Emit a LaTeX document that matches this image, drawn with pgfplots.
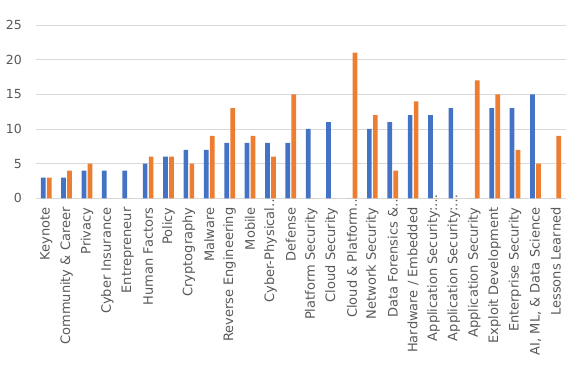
\documentclass[border=0pt]{standalone}
\usepackage{pgfplots}
\pgfplotsset{compat=1.18}
\usepackage{fontspec}
\setmainfont{DejaVu Sans}
\definecolor{xlblue}{HTML}{4472C4}
\definecolor{xlorange}{HTML}{ED7D31}
\definecolor{gridc}{HTML}{D9D9D9}
\definecolor{txt}{HTML}{595959}
\begin{document}
\begin{tikzpicture}
\useasboundingbox (-36pt,-174.7pt) rectangle (552pt,198.3pt);
\begin{axis}[
  scale only axis, width=530pt, height=173.3pt,
  xmin=-0.5, xmax=25.5, ymin=0, ymax=25,
  ytick={0,5,10,15,20,25}, xtick={0,...,25},
  xticklabels={Keynote,Community \& Career,Privacy,Cyber Insurance,Entrepreneur,Human Factors,Policy,Cryptography,Malware,Reverse Engineering,Mobile,Cyber-Physical\rlap{…},Defense,Platform Security,Cloud Security,Cloud \& Platform\rlap{…},Network Security,Data Forensics \&\rlap{…},Hardware / Embedded,Application Security:\rlap{…},Application Security:\rlap{…},Application Security,Exploit Development,Enterprise Security,{AI, ML, \& Data Science},Lessons Learned},
  axis line style={draw=none},
  major tick length=0pt,
  ymajorgrids, grid style={gridc, line width=0.9pt},
  ybar, bar width=4.7pt,
  ticklabel style={text=txt},
  xticklabel style={rotate=90, anchor=east, inner sep=0pt, font=\fontsize{13}{13}\selectfont},
  yticklabel style={anchor=east, inner sep=0pt, font=\fontsize{12.5}{12.5}\selectfont},
  xticklabel shift=9pt, yticklabel shift=14pt,
  /pgf/number format/assume math mode=true,
]
\addplot[fill=xlblue, draw=none, bar shift=-3pt] coordinates {
(0,3) (1,3) (2,4) (3,4) (4,4) (5,5) (6,6) (7,7) (8,7) (9,8) (10,8) (11,8) (12,8)
(13,10) (14,11) (15,0) (16,10) (17,11) (18,12) (19,12) (20,13) (21,0) (22,13) (23,13) (24,15) (25,0)};
\addplot[fill=xlorange, draw=none, bar shift=3pt] coordinates {
(0,3) (1,4) (2,5) (3,0) (4,0) (5,6) (6,6) (7,5) (8,9) (9,13) (10,9) (11,6) (12,15)
(13,0) (14,0) (15,21) (16,12) (17,4) (18,14) (19,0) (20,0) (21,17) (22,15) (23,7) (24,5) (25,9)};
\end{axis}
\end{tikzpicture}
\end{document}
